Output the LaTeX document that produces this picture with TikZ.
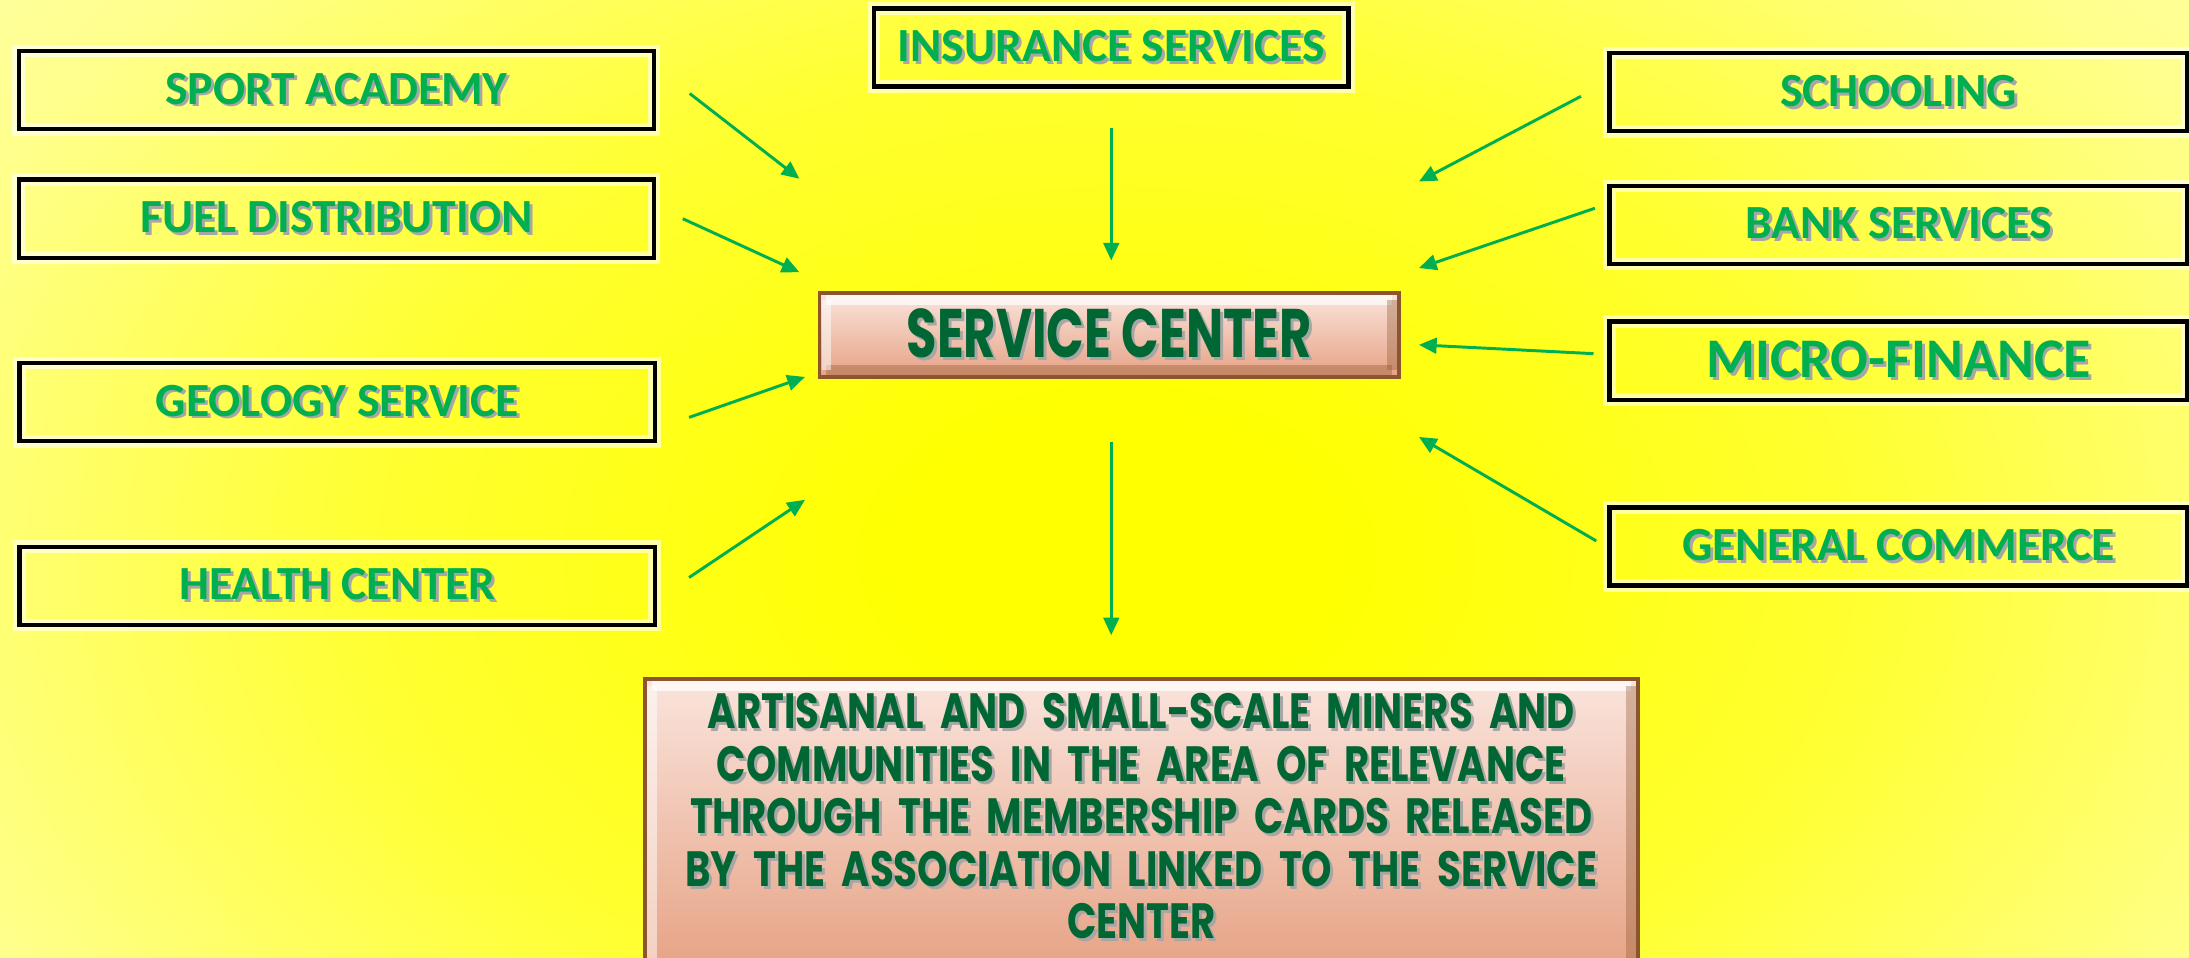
\documentclass[tikz,border=0pt]{standalone}
\usepackage{fontspec}
\setmainfont{Carlito}
\newfontfamily\gothic[FakeStretch=0.78]{Poppins}
\newfontfamily\hubfont[FakeStretch=0.72]{Poppins}
\usetikzlibrary{arrows.meta,positioning,calc}

\definecolor{leafgreen}{RGB}{0,176,80}
\definecolor{darkleaf}{RGB}{0,102,51}
\definecolor{paleyellow}{RGB}{255,255,202}
\definecolor{edgeyellow}{RGB}{255,255,215}
\definecolor{glowhigh}{RGB}{255,255,50}
\definecolor{glowmid}{RGB}{255,255,140}
\definecolor{peachtop}{RGB}{250,228,220}
\definecolor{peachbot}{RGB}{230,162,132}
\definecolor{bronze}{RGB}{140,85,45}

\pgfdeclareradialshading{sunglow}{\pgfpoint{0bp}{0bp}}{color(0bp)=(yellow); color(3.6bp)=(yellow); color(12.9bp)=(glowhigh); color(21.4bp)=(glowmid); color(31.4bp)=(paleyellow); color(60bp)=(edgeyellow); color(100bp)=(edgeyellow)}

\newcommand\shadowed[1]{\leavevmode\rlap{\kern0.6pt\raisebox{-0.6pt}{\color{black!35}#1}}#1}

\begin{document}
\begin{tikzpicture}[
        ->, >={Triangle[length=3.6pt,width=3.2pt]}, node distance=0.35cm,
        every edge/.style={draw=leafgreen, line width=0.6pt}
    ]

    \tikzstyle{block} = [rectangle,draw,line width=0.9pt,minimum width=4.55cm,minimum height=0.56cm,inner sep=1pt,
        font=\bfseries\fontsize{9.7}{11}\selectfont,text=leafgreen,
        preaction={draw=white,line width=2.6pt,opacity=0.6}]
    \tikzstyle{bevel} = [path picture={
        \draw[-,white,opacity=0.7,line width=2pt]
            ([shift={(0.05,-0.05)}]path picture bounding box.north west) -- ([shift={(-0.05,-0.05)}]path picture bounding box.north east);
        \draw[-,bronze,opacity=0.35,line width=2pt]
            ([shift={(0.05,0.05)}]path picture bounding box.south west) -- ([shift={(-0.05,0.05)}]path picture bounding box.south east);
        \draw[-,bronze,opacity=0.35,line width=2pt]
            ([shift={(-0.05,-0.05)}]path picture bounding box.north east) -- ([shift={(-0.05,0.05)}]path picture bounding box.south east);
        \draw[-,white,opacity=0.5,line width=2pt]
            ([shift={(0.05,-0.05)}]path picture bounding box.north west) -- ([shift={(0.05,0.05)}]path picture bounding box.south west);
        }]
    \tikzstyle{hub} = [rectangle,draw=bronze,line width=0.8pt,top color=peachtop,bottom color=peachbot,bevel,
        minimum width=4.15cm,minimum height=0.60cm,inner sep=1pt,
        font=\hubfont\bfseries\fontsize{14}{17}\selectfont,text=darkleaf]
    \tikzstyle{cards} = [rectangle,draw=bronze,line width=0.8pt,top color=peachtop,bottom color=peachbot,bevel,
        minimum width=7.11cm,minimum height=2.1cm,anchor=north]
    \tikzstyle{cardtext} = [inner sep=0pt,align=center,text width=7cm,
        font=\gothic\bfseries\fontsize{10.1}{10.7}\selectfont,text=darkleaf]

    % background
    \useasboundingbox (0,2.72) rectangle (15.68,9.58);
    \begin{scope}[-]
        \clip (0,2.72) rectangle (15.68,9.58);
        \shade[shading=sunglow] (-2.5,-1.4) rectangle (18.5,12.6);
    \end{scope}

    \node[hub] (center) at (7.945,7.18) {\shadowed{SERVICE CENTER}};

    \node[block] (sport) at (2.41,8.935) {\shadowed{SPORT ACADEMY}};
    \node[block] (fuel)    [below=0.33cm of sport]   {\shadowed{FUEL DISTRIBUTION}};
    \node[block] (geology) at (2.415,6.70)           {\shadowed{GEOLOGY SERVICE}};
    \node[block] (health)  [below=0.725cm of geology] {\shadowed{HEALTH CENTER}};

    \node[block,minimum width=3.4cm] (insurance) at (7.96,9.24) {\shadowed{INSURANCE SERVICES}};

    \node[block,minimum width=4.14cm] (schooling) at (13.60,8.92) {\shadowed{SCHOOLING}};
    \node[block,minimum width=4.14cm] (bank)     [below=0.36cm of schooling] {\shadowed{BANK SERVICES}};
    \node[block,minimum width=4.14cm,font=\bfseries\fontsize{11.4}{13}\selectfont]
                                      (micro)    [below=0.38cm of bank]      {\shadowed{MICRO-FINANCE}};
    \node[block,minimum width=4.14cm] (commerce) [below=0.74cm of micro]     {\shadowed{GENERAL COMMERCE}};

    \node[cards] (members) at (8.175,4.73) {};
    \node[cardtext] (memberstext) [below=0.11cm of members.north]
        {\shadowed{ARTISANAL AND SMALL-SCALE MINERS AND}\\
         \shadowed{COMMUNITIES IN THE AREA OF RELEVANCE}\\
         \shadowed{THROUGH THE MEMBERSHIP CARDS RELEASED}\\
         \shadowed{BY THE ASSOCIATION LINKED TO THE SERVICE}\\
         \shadowed{CENTER}};

    \path
        ([shift={(0.24,-0.025)}]sport.east)   edge ([shift={(-0.13,1.12)}]center.west)
        ([shift={(0.19,0)}]fuel.east)         edge ([shift={(-0.13,0.45)}]center.west)
        ([shift={(0.23,-0.11)}]geology.east)  edge ([shift={(-0.09,-0.30)}]center.west)
        ([shift={(0.23,0.06)}]health.east)    edge ([shift={(-0.09,-1.18)}]center.west)
        ([shift={(0,-0.28)}]insurance.south)  edge ([shift={(0.015,0.22)}]center.north)
        ([shift={(-0.19,-0.03)}]schooling.west) edge ([shift={(0.13,1.10)}]center.east)
        ([shift={(-0.09,0.12)}]bank.west)     edge ([shift={(0.13,0.48)}]center.east)
        ([shift={(-0.10,0.05)}]micro.west)    edge ([shift={(0.13,-0.07)}]center.east)
        ([shift={(-0.08,0.04)}]commerce.west) edge ([shift={(0.13,-0.73)}]center.east)
        ([shift={(0.015,-0.45)}]center.south) edge ([shift={(-0.215,0.30)}]members.north)
    ;

\end{tikzpicture}
\end{document}
